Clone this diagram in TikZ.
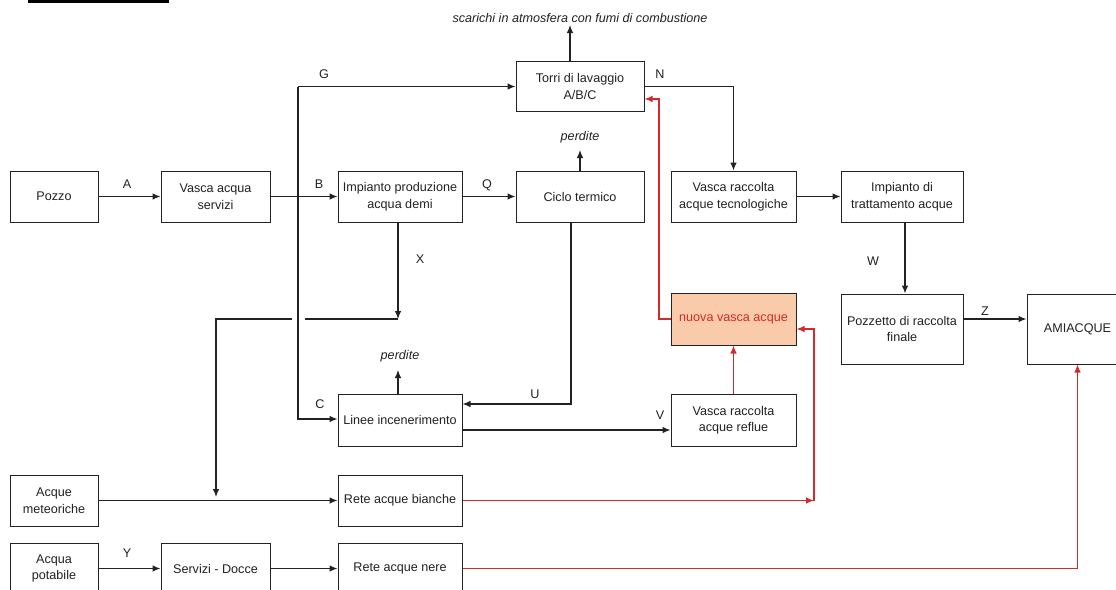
\documentclass[tikz,border=0pt]{standalone}
\usepackage{fontspec}
\setmainfont{Liberation Sans}
\usetikzlibrary{arrows.meta}
\definecolor{lc}{HTML}{222222}
\definecolor{rc}{HTML}{D42A2A}
\definecolor{peach}{HTML}{F9CBAA}
\newcommand\fsz{\fontsize{12.6}{16.5}\selectfont}
\begin{document}
\begin{tikzpicture}[x=1pt,y=-1pt,
  box/.style={draw=lc, line width=1pt, inner sep=0pt, align=center, font=\fsz, text=lc},
  arr/.style={-{Latex[length=8pt,width=6.5pt]}, line width=1.1pt, draw=lc},
  ln/.style={line width=1.1pt, draw=lc},
  rarr/.style={-{Latex[length=8pt,width=6.5pt]}, line width=1.1pt, draw=rc},
  lbl/.style={font=\fsz, inner sep=0pt, text=lc},
  ilbl/.style={font=\fsz\itshape, inner sep=0pt, text=lc}]
\fill[white] (0,0) rectangle (1116,589);
\useasboundingbox (0,0) rectangle (1116,589);
\clip (0,0) rectangle (1116,589);
\fill[black] (28,0) rectangle (169,3);
% boxes
\node[box, minimum width=88, minimum height=51] (pozzo) at (54,196.5) {Pozzo};
\node[box, minimum width=109, minimum height=51] (vasca) at (215.5,196.5) {Vasca acqua\\servizi};
\node[box, minimum width=124, minimum height=51] (impianto) at (400,196.5) {Impianto produzione\\acqua demi};
\node[box, minimum width=128, minimum height=50] (torri) at (580,86.5) {Torri di lavaggio\\A/B/C};
\node[box, minimum width=128, minimum height=51] (ciclo) at (580,196.5) {Ciclo termico};
\node[box, minimum width=125, minimum height=51] (tecno) at (733.5,196.5) {Vasca raccolta\\acque tecnologiche};
\node[box, minimum width=122, minimum height=51] (tratt) at (902,196.5) {Impianto di\\trattamento acque};
\node[box, minimum width=122, minimum height=70] (pozzetto) at (902,329) {Pozzetto di raccolta\\finale};
\node[box, minimum width=101, minimum height=70] (amiacque) at (1077.5,329) {AMIACQUE};
\node[box, fill=peach, text=rc, minimum width=125, minimum height=52] (nuova) at (733.5,319) {nuova vasca acque};
\node[box, minimum width=125, minimum height=52] (reflue) at (733.5,420) {Vasca raccolta\\acque reflue};
\node[box, minimum width=124, minimum height=52] (linee) at (400,420) {Linee incenerimento};
\node[box, minimum width=88, minimum height=51] (meteo) at (54,500.5) {Acque\\meteoriche};
\node[box, minimum width=124, minimum height=51] (bianche) at (400,500.5) {Rete acque bianche};
\node[box, minimum width=88, minimum height=51] (potabile) at (54,568.5) {Acqua\\potabile};
\node[box, minimum width=109, minimum height=51] (servizi) at (215.5,568.5) {Servizi - Docce};
\node[box, minimum width=124, minimum height=51] (nere) at (400,568.5) {Rete acque nere};
% free texts
\node[ilbl] (scarichi) at (580,18) {scarichi in atmosfera con fumi di combustione};
\node[ilbl] (perd1) at (580,137) {perdite};
\node[ilbl] (perd2) at (400,356) {perdite};
% labels
\node[lbl] (lA) at (127,184) {A};
\node[lbl] (lB) at (319,184) {B};
\node[lbl] (lG) at (324,74) {G};
\node[lbl] (lN) at (660,74) {N};
\node[lbl] (lQ) at (487,185) {Q};
\node[lbl] (lX) at (420,259) {X};
\node[lbl] (lU) at (535,394) {U};
\node[lbl] (lV) at (660,415) {V};
\node[lbl] (lC) at (320,404) {C};
\node[lbl] (lW) at (873,261) {W};
\node[lbl] (lZ) at (985,311) {Z};
\node[lbl] (lY) at (127,553) {Y};
% coordinates
\coordinate (tS) at (570,25);
\coordinate (p1) at (580,150);
\coordinate (p2) at (398,370);
\coordinate (jG) at (298,86.5);
\coordinate (jC) at (298,419);
\coordinate (cU) at (571,404);
\coordinate (cV) at (0,430);
\coordinate (xT) at (398,319);
\coordinate (gapR) at (305,319);
\coordinate (gapL) at (292,319);
\coordinate (xC) at (216,319);
\coordinate (xB) at (216,497);
\coordinate (rc1) at (814,500.5);
\coordinate (rc2) at (814,329);
\coordinate (r1) at (659,319);
\coordinate (r2) at (659,99);
\coordinate (zY) at (0,319);
\coordinate (wX) at (905,0);
% black connectors
\draw[arr] (pozzo) -- (vasca);
\draw[arr] (vasca) -- (impianto);
\draw[arr] (jG) -- (jG -| torri.west);
\draw[arr] (jG) -- (jC) -- (jC -| linee.west);
\draw[arr] (impianto) -- (ciclo);
\draw[arr] (ciclo.north) -- (p1);
\draw[arr] (torri.north -| tS) -- (tS);
\draw[arr] (torri.east) -| (tecno.north);
\draw[arr] (ciclo.south -| cU) -- (cU) -- (cU -| linee.east);
\draw[arr] (linee.east |- cV) -- (reflue.west |- cV);
\draw[arr] (linee.north -| p2) -- (p2);
\draw[arr] (impianto.south -| xT) -- (xT);
\draw[ln] (xT) -- (gapR);
\draw[arr] (gapL) -- (xC) -- (xB);
\draw[arr] (meteo) -- (bianche);
\draw[arr] (tecno) -- (tratt);
\draw[arr] (tratt.south -| wX) -- (pozzetto.north -| wX);
\draw[arr] (pozzetto.east |- zY) -- (amiacque.west |- zY);
\draw[arr] (potabile) -- (servizi);
\draw[arr] (servizi) -- (nere);
% red connectors
\draw[rarr] (bianche) -- (rc1);
\draw[rarr] (rc1) -- (rc2) -- (nuova.east |- rc2);
\draw[rarr] (reflue) -- (nuova);
\draw[rarr] (nuova.west) -- (r1) -- (r2) -- (torri.east |- r2);
\draw[rarr] (nere.east) -| (amiacque.south);
\end{tikzpicture}
\end{document}
